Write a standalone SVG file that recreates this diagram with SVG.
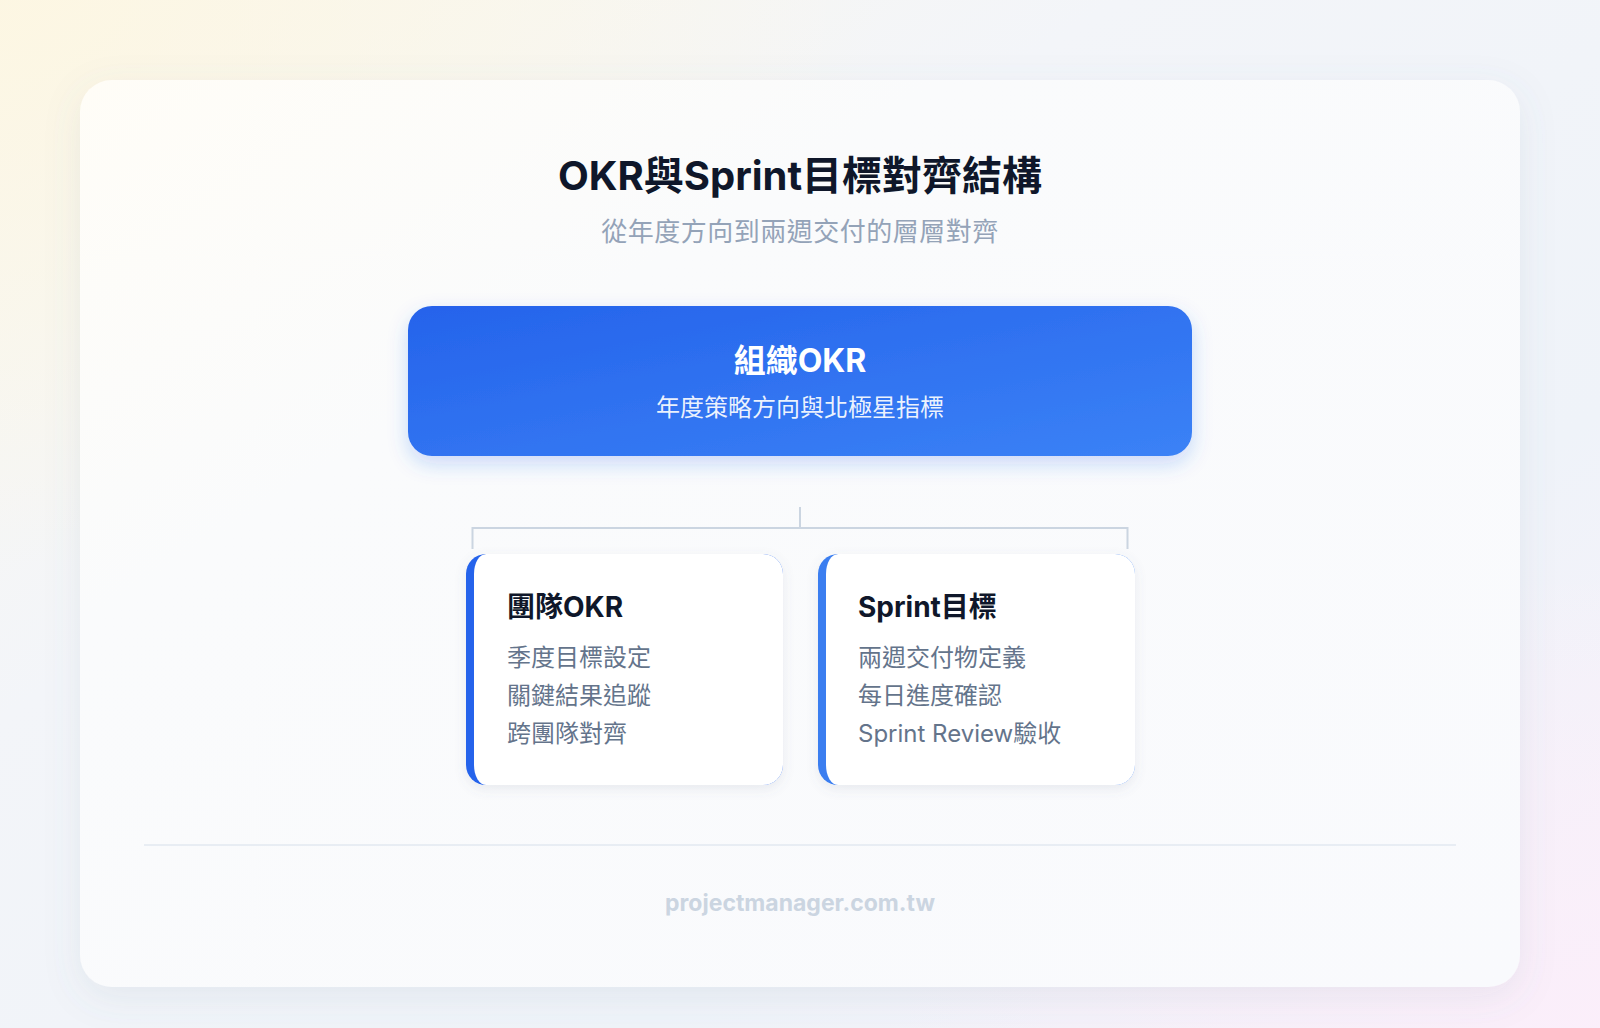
<svg xmlns="http://www.w3.org/2000/svg" width="1600" height="1028" viewBox="0 0 1600 1028">
  <defs>
    <linearGradient id="bgBase" x1="0" y1="0" x2="1" y2="1">
      <stop offset="0" stop-color="#fbf8ee"/>
      <stop offset="0.35" stop-color="#f3f5f9"/>
      <stop offset="0.7" stop-color="#eff3f9"/>
      <stop offset="1" stop-color="#f8f1fa"/>
    </linearGradient>
    <radialGradient id="warm" cx="0" cy="0" r="0.55">
      <stop offset="0" stop-color="#fdf6e0" stop-opacity="0.8"/>
      <stop offset="1" stop-color="#fdf6e0" stop-opacity="0"/>
    </radialGradient>
    <radialGradient id="pink" cx="1" cy="1" r="0.45">
      <stop offset="0" stop-color="#fbeefa" stop-opacity="0.9"/>
      <stop offset="1" stop-color="#fbeefa" stop-opacity="0"/>
    </radialGradient>
    <linearGradient id="cardFill" x1="0" y1="0" x2="1" y2="1">
      <stop offset="0" stop-color="#fffdf7"/>
      <stop offset="0.3" stop-color="#fafbfc"/>
      <stop offset="1" stop-color="#f9fafd"/>
    </linearGradient>
    <linearGradient id="blueGrad" x1="0" y1="0" x2="1" y2="1">
      <stop offset="0" stop-color="#2563eb"/>
      <stop offset="1" stop-color="#3b82f6"/>
    </linearGradient>
    <filter id="cardShadow" x="-10%" y="-10%" width="120%" height="125%">
      <feDropShadow dx="0" dy="10" stdDeviation="18" flood-color="#64748b" flood-opacity="0.10"/>
    </filter>
    <filter id="blueShadow" x="-10%" y="-20%" width="120%" height="160%">
      <feDropShadow dx="0" dy="8" stdDeviation="10" flood-color="#2563eb" flood-opacity="0.22"/>
    </filter>
    <filter id="subShadow" x="-10%" y="-10%" width="120%" height="130%">
      <feDropShadow dx="0" dy="4" stdDeviation="6" flood-color="#64748b" flood-opacity="0.12"/>
    </filter>
    <clipPath id="clipL"><rect x="466" y="554" width="317" height="231" rx="20"/></clipPath>
    <clipPath id="clipR"><rect x="818" y="554" width="317" height="231" rx="20"/></clipPath>
    <style>
      .sans { font-family: "Inter", "Noto Sans CJK TC", "Noto Sans", sans-serif; }
      .title { font-size: 40px; font-weight: 700; fill: #0f172a; }
      .subtitle { font-size: 26px; font-weight: 400; fill: #94a3b8; letter-spacing: 0.5px; }
      .topTitle { font-size: 32px; font-weight: 700; fill: #ffffff; }
      .topSub { font-size: 24px; font-weight: 400; fill: #ffffff; fill-opacity: 0.92; }
      .cardHead { font-size: 28px; font-weight: 700; fill: #0f172a; }
      .item { font-size: 24px; font-weight: 400; fill: #64748b; }
      .footer { font-size: 23px; font-weight: 700; fill: #cbd5e1; }
      .conn { stroke: #cbd5e1; stroke-width: 2; fill: none; }
    </style>
  </defs>

  <!-- background -->
  <rect x="0" y="0" width="1600" height="1028" fill="url(#bgBase)"/>
  <rect x="0" y="0" width="1600" height="1028" fill="url(#warm)"/>
  <rect x="0" y="0" width="1600" height="1028" fill="url(#pink)"/>

  <!-- main card -->
  <g id="main-card">
    <rect x="80" y="80" width="1440" height="907" rx="32" fill="url(#cardFill)" filter="url(#cardShadow)"/>
  </g>

  <g id="header">
    <text class="sans title" x="800" y="190" text-anchor="middle">OKR與Sprint目標對齊結構</text>
    <text class="sans subtitle" x="800" y="241" text-anchor="middle">從年度方向到兩週交付的層層對齊</text>
  </g>

  <g id="node-org-okr">
    <rect x="408" y="306" width="784" height="150" rx="24" fill="url(#blueGrad)" filter="url(#blueShadow)"/>
    <text class="sans topTitle" x="800" y="372" text-anchor="middle">組織OKR</text>
    <text class="sans topSub" x="800" y="416" text-anchor="middle">年度策略方向與北極星指標</text>
  </g>

  <g id="connectors">
    <line class="conn" x1="800" y1="507" x2="800" y2="528"/>
    <line class="conn" x1="472.5" y1="528" x2="1127.5" y2="528"/>
    <line class="conn" x1="472.5" y1="527" x2="472.5" y2="549"/>
    <line class="conn" x1="1127.5" y1="527" x2="1127.5" y2="549"/>
  </g>

  <g id="node-team-okr">
    <rect x="466" y="554" width="317" height="231" rx="20" fill="#ffffff" filter="url(#subShadow)"/>
    <g clip-path="url(#clipL)">
      <rect x="466" y="554" width="317" height="231" fill="#2563eb"/>
      <rect x="474" y="554" width="320" height="231" rx="12" ry="20" fill="#ffffff"/>
    </g>
    <text class="sans cardHead" x="507" y="617">團隊OKR</text>
    <text class="sans item" x="507" y="666">季度目標設定</text>
    <text class="sans item" x="507" y="704">關鍵結果追蹤</text>
    <text class="sans item" x="507" y="742">跨團隊對齊</text>
  </g>

  <g id="node-sprint-goal">
    <rect x="818" y="554" width="317" height="231" rx="20" fill="#ffffff" filter="url(#subShadow)"/>
    <g clip-path="url(#clipR)">
      <rect x="818" y="554" width="317" height="231" fill="#3b7ef0"/>
      <rect x="826" y="554" width="320" height="231" rx="12" ry="20" fill="#ffffff"/>
    </g>
    <text class="sans cardHead" x="858" y="617">Sprint目標</text>
    <text class="sans item" x="858" y="666">兩週交付物定義</text>
    <text class="sans item" x="858" y="704">每日進度確認</text>
    <text class="sans item" x="858" y="742">Sprint Review驗收</text>
  </g>

  <g id="footer">
    <line x1="144" y1="845" x2="1456" y2="845" stroke="#e2e8f0" stroke-width="1.5"/>
    <text class="sans footer" x="800" y="911" text-anchor="middle">projectmanager.com.tw</text>
  </g>
</svg>
